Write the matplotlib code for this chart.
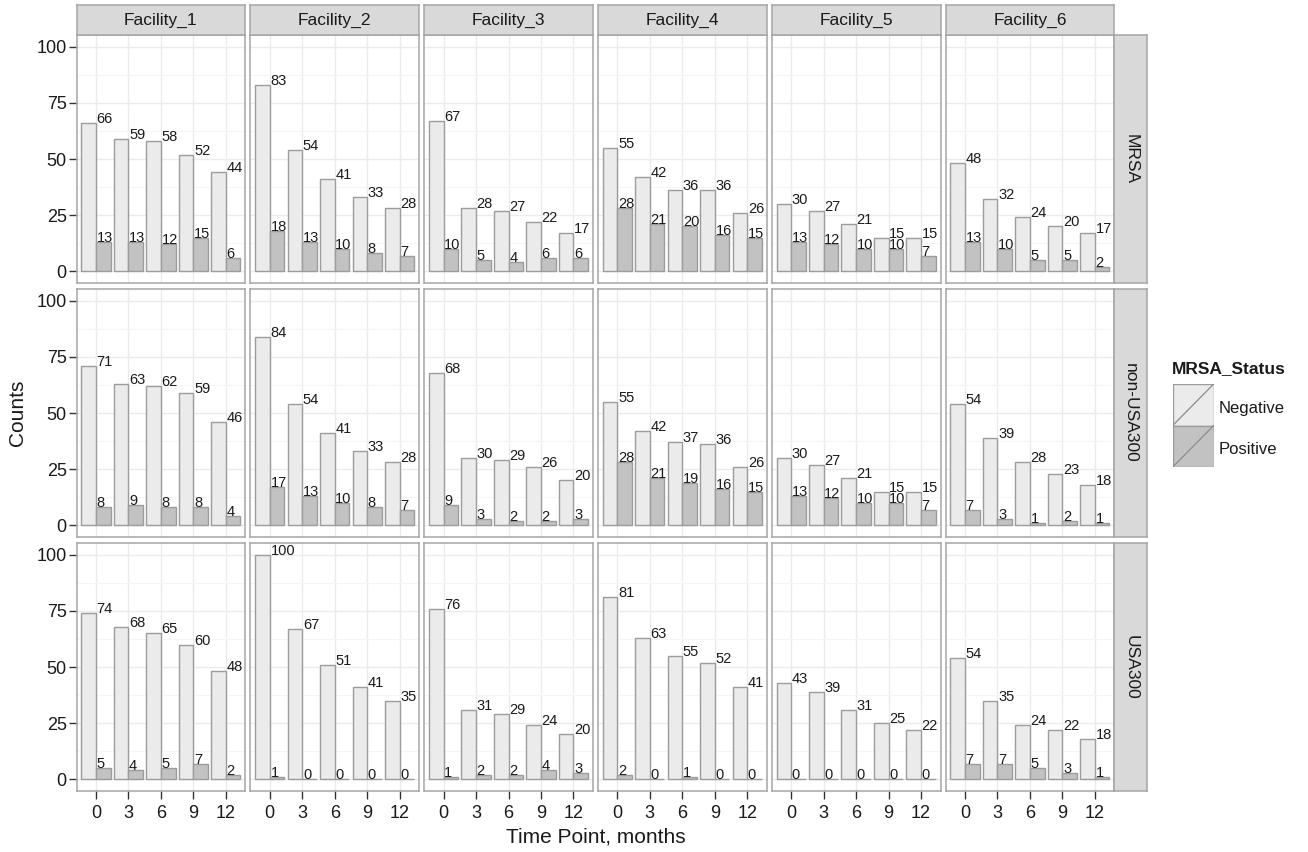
import matplotlib
matplotlib.use("Agg")
import matplotlib.pyplot as plt
from matplotlib.patches import Rectangle
import numpy as np

plt.rcParams['font.family'] = ['Liberation Sans', 'DejaVu Sans']

time_points = ["0", "3", "6", "9", "12"]
facilities = ["Facility_1", "Facility_2", "Facility_3", "Facility_4", "Facility_5", "Facility_6"]
strains = ["MRSA", "non-USA300", "USA300"]
statuses = ["Negative", "Positive"]

# one row per facility, one column per time point
mrsa_neg = [[66, 59, 58, 52, 44], [83, 54, 41, 33, 28], [67, 28, 27, 22, 17],
            [55, 42, 36, 36, 26], [30, 27, 21, 15, 15], [48, 32, 24, 20, 17]]
mrsa_pos = [[13, 13, 12, 15, 6], [18, 13, 10, 8, 7], [10, 5, 4, 6, 6],
            [28, 21, 20, 16, 15], [13, 12, 10, 10, 7], [13, 10, 5, 5, 2]]
non300_neg = [[71, 63, 62, 59, 46], [84, 54, 41, 33, 28], [68, 30, 29, 26, 20],
              [55, 42, 37, 36, 26], [30, 27, 21, 15, 15], [54, 39, 28, 23, 18]]
non300_pos = [[8, 9, 8, 8, 4], [17, 13, 10, 8, 7], [9, 3, 2, 2, 3],
              [28, 21, 19, 16, 15], [13, 12, 10, 10, 7], [7, 3, 1, 2, 1]]
usa300_neg = [[74, 68, 65, 60, 48], [100, 67, 51, 41, 35], [76, 31, 29, 24, 20],
              [81, 63, 55, 52, 41], [43, 39, 31, 25, 22], [54, 35, 24, 22, 18]]
usa300_pos = [[5, 4, 5, 7, 2], [1, 0, 0, 0, 0], [1, 2, 2, 4, 3],
              [2, 0, 1, 0, 0], [0, 0, 0, 0, 0], [7, 7, 5, 3, 1]]

counts = {
    "MRSA": (mrsa_neg, mrsa_pos),
    "non-USA300": (non300_neg, non300_pos),
    "USA300": (usa300_neg, usa300_pos),
}

fills = {"Negative": "#EBEBEB", "Positive": "#C2C2C2"}
bar_edge = "#9C9C9C"
border = "#A6A6A6"
strip_fill = "#D9D9D9"
ink = "#1A1A1A"

W, H = 1308, 852
fig = plt.figure(figsize=(W / 100, H / 100), dpi=100)


def box(left, top, width, height):
    return [left / W, 1 - (top + height) / H, width / W, height / H]


def strip_axes(rect):
    sax = fig.add_axes(rect)
    sax.set_facecolor(strip_fill)
    sax.set_xticks([])
    sax.set_yticks([])
    for s in sax.spines.values():
        s.set_color(border)
        s.set_linewidth(1.1)
    return sax


x0, pw, gap = 76.5, 168.8, 5.0
y0, ph, vgap = 35.3, 247.4, 6.6
strip_h, strip_w = 30.6, 32.7

x = np.arange(1, len(time_points) + 1)
bw = 0.45

for r, strain in enumerate(strains):
    top = y0 + r * (ph + vgap)
    for c, fac in enumerate(facilities):
        left = x0 + c * (pw + gap)
        ax = fig.add_axes(box(left, top, pw, ph))
        ax.set_xlim(0.4, len(time_points) + 0.6)
        ax.set_ylim(-5, 105)
        ax.set_yticks([0, 25, 50, 75, 100])
        ax.set_yticks([12.5, 37.5, 62.5, 87.5], minor=True)
        ax.set_xticks(x)
        ax.grid(which="major", color="#EBEBEB", lw=1.0)
        ax.grid(which="minor", axis="y", color="#F5F5F5", lw=0.8)
        ax.set_axisbelow(True)
        for s in ax.spines.values():
            s.set_color(border)
            s.set_linewidth(1.1)

        neg, pos = counts[strain]
        for vals, offset, status in ((neg[c], -bw / 2, "Negative"), (pos[c], bw / 2, "Positive")):
            ax.bar(x + offset, vals, width=bw, color=fills[status],
                   edgecolor=bar_edge, linewidth=1.0, zorder=2)
            for xi, v in zip(x, vals):
                ax.text(xi + 0.02, v, str(v), ha="left", va="baseline",
                        fontsize=10.5, color=ink, zorder=3)

        ax.tick_params(which="minor", length=0)
        ax.tick_params(which="major", length=6, width=1.0, color="#333333",
                       labelsize=13, labelcolor=ink, pad=1)
        if c == 0:
            ax.set_yticklabels(["0", "25", "50", "75", "100"])
        else:
            ax.tick_params(axis="y", length=0, labelleft=False)
        if r == len(strains) - 1:
            ax.set_xticklabels(time_points)
            ax.tick_params(axis="x", pad=4)
        else:
            ax.tick_params(axis="x", length=0, labelbottom=False)

        # facility strip along the top row
        if r == 0:
            sax = strip_axes(box(left, y0 - strip_h, pw, strip_h))
            sax.text(0.5, 0.48, fac, ha="center", va="center", fontsize=12.5,
                     color=ink, transform=sax.transAxes)

    # strain strip on the right side
    right = x0 + len(facilities) * pw + (len(facilities) - 1) * gap
    rax = strip_axes(box(right, top, strip_w, ph))
    rax.text(0.5, 0.5, strain, ha="center", va="center", rotation=270,
             fontsize=12.5, color=ink, transform=rax.transAxes)

fig.text(17 / W, 1 - 413 / H, "Counts", rotation=90, ha="center", va="center",
         fontsize=15, color=ink)
fig.text(596 / W, 1 - 837 / H, "Time Point, months", ha="center", va="center",
         fontsize=15, color=ink)

# legend with slashed keys
fig.text(1172 / W, 1 - 369 / H, "MRSA_Status", ha="left", va="center",
         fontsize=12.5, fontweight="bold", color=ink)
lax = fig.add_axes(box(1172.7, 384, 41, 83))
lax.set_xlim(0, 1)
lax.set_ylim(0, 2)
lax.axis("off")
for i, status in enumerate(statuses):
    yb = 1 - i
    lax.add_patch(Rectangle((0, yb), 1, 1, facecolor=fills[status],
                            edgecolor=bar_edge, lw=1.0))
    lax.plot([0, 1], [yb, yb + 1], color="#8C8C8C", lw=0.9)
    fig.text(1219 / W, 1 - (408 + 42 * i) / H, status, ha="left", va="center",
             fontsize=12, color=ink)

fig.savefig("out.png", dpi=100, facecolor="white")
